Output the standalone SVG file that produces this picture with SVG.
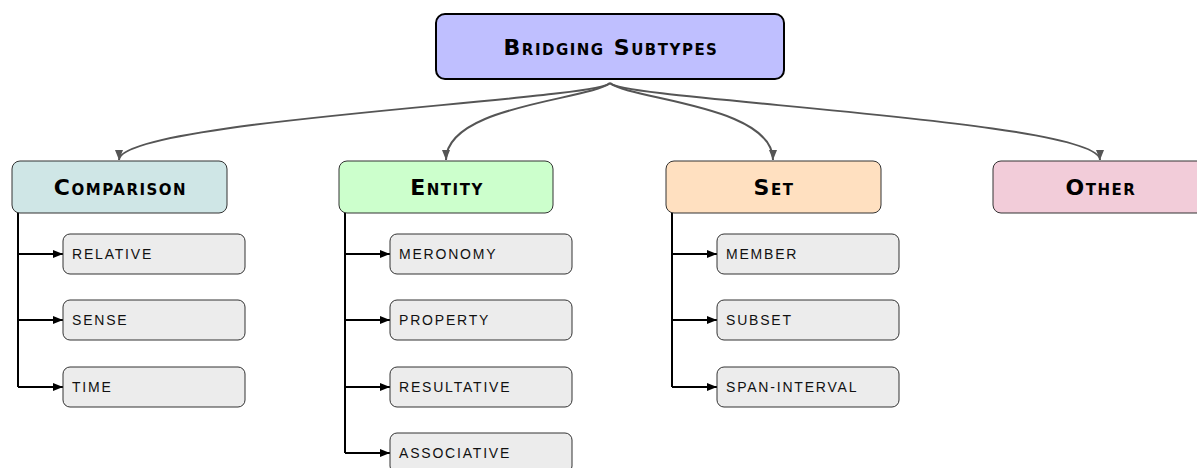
<svg xmlns="http://www.w3.org/2000/svg" width="1197" height="468" viewBox="0 0 1197 468">
<style>
.t{font-family:"DejaVu Sans","Liberation Sans",sans-serif;font-weight:bold;font-variant:small-caps;font-size:22px;letter-spacing:1.5px;fill:#000;text-anchor:middle;dominant-baseline:central}
.s{font-family:"Liberation Sans",Arial,sans-serif;font-size:14px;fill:#111;dominant-baseline:central;letter-spacing:1.8px}
.leaf{fill:#ececec;stroke:#333;stroke-width:1}
.cat{stroke:#333;stroke-width:1}
.c{fill:none;stroke:#555;stroke-width:2}
.b{fill:none;stroke:#000;stroke-width:2}
</style>
<defs>
<marker id="ag" viewBox="0 0 10 8" refX="10" refY="4" markerWidth="10" markerHeight="8" markerUnits="userSpaceOnUse" orient="auto"><path d="M0,0L10,4L0,8z" fill="#555"/></marker>
<marker id="ab" viewBox="0 0 10 8" refX="10" refY="4" markerWidth="10" markerHeight="8" markerUnits="userSpaceOnUse" orient="auto"><path d="M0,0L10,4L0,8z" fill="#000"/></marker>
</defs>
<g id="connectors">
<path class="c" marker-end="url(#ag)" d="M610,83 C600,100 119,120 119,160"/>
<path class="c" marker-end="url(#ag)" d="M610,83 C590,100 446,105 446,160"/>
<path class="c" marker-end="url(#ag)" d="M610,83 C630,100 773,105 773,160"/>
<path class="c" marker-end="url(#ag)" d="M610,83 C620,100 1100,120 1100,160"/>
<path class="b" d="M18,213 V387"/>
<path class="b" marker-end="url(#ab)" d="M18,254 H63"/>
<path class="b" marker-end="url(#ab)" d="M18,320 H63"/>
<path class="b" marker-end="url(#ab)" d="M18,387 H63"/>
<path class="b" d="M345,213 V453"/>
<path class="b" marker-end="url(#ab)" d="M345,254 H390"/>
<path class="b" marker-end="url(#ab)" d="M345,320 H390"/>
<path class="b" marker-end="url(#ab)" d="M345,387 H390"/>
<path class="b" marker-end="url(#ab)" d="M345,453 H390"/>
<path class="b" d="M672,213 V387"/>
<path class="b" marker-end="url(#ab)" d="M672,254 H717"/>
<path class="b" marker-end="url(#ab)" d="M672,320 H717"/>
<path class="b" marker-end="url(#ab)" d="M672,387 H717"/>
</g>
<g id="root"><rect x="436" y="14" width="348" height="65" rx="9" fill="#bfbfff" stroke="#000" stroke-width="2"/><text class="t" x="611" y="47">Bridging Subtypes</text></g>
<g id="comparison"><rect class="cat" x="12" y="161" width="215" height="52" rx="8" fill="#cfe6e6"/><text class="t" x="120.5" y="187">Comparison</text></g>
<g id="entity"><rect class="cat" x="339" y="161" width="214" height="52" rx="8" fill="#ccffcc"/><text class="t" x="447" y="187">Entity</text></g>
<g id="set"><rect class="cat" x="666" y="161" width="215" height="52" rx="8" fill="#ffe0c0"/><text class="t" x="774" y="187">Set</text></g>
<g id="other"><rect class="cat" x="993" y="161" width="215" height="52" rx="8" fill="#f2ccd9"/><text class="t" x="1101" y="187">Other</text></g>
<g id="relative"><rect class="leaf" x="63" y="234" width="182" height="40" rx="7"/><text class="s" x="72" y="254">RELATIVE</text></g>
<g id="sense"><rect class="leaf" x="63" y="300" width="182" height="40" rx="7"/><text class="s" x="72" y="320">SENSE</text></g>
<g id="time"><rect class="leaf" x="63" y="367" width="182" height="40" rx="7"/><text class="s" x="72" y="387">TIME</text></g>
<g id="meronomy"><rect class="leaf" x="390" y="234" width="182" height="40" rx="7"/><text class="s" x="399" y="254">MERONOMY</text></g>
<g id="property"><rect class="leaf" x="390" y="300" width="182" height="40" rx="7"/><text class="s" x="399" y="320">PROPERTY</text></g>
<g id="resultative"><rect class="leaf" x="390" y="367" width="182" height="40" rx="7"/><text class="s" x="399" y="387">RESULTATIVE</text></g>
<g id="associative"><rect class="leaf" x="390" y="433" width="182" height="40" rx="7"/><text class="s" x="399" y="453">ASSOCIATIVE</text></g>
<g id="member"><rect class="leaf" x="717" y="234" width="182" height="40" rx="7"/><text class="s" x="726" y="254">MEMBER</text></g>
<g id="subset"><rect class="leaf" x="717" y="300" width="182" height="40" rx="7"/><text class="s" x="726" y="320">SUBSET</text></g>
<g id="span-interval"><rect class="leaf" x="717" y="367" width="182" height="40" rx="7"/><text class="s" x="726" y="387">SPAN-INTERVAL</text></g>
</svg>
